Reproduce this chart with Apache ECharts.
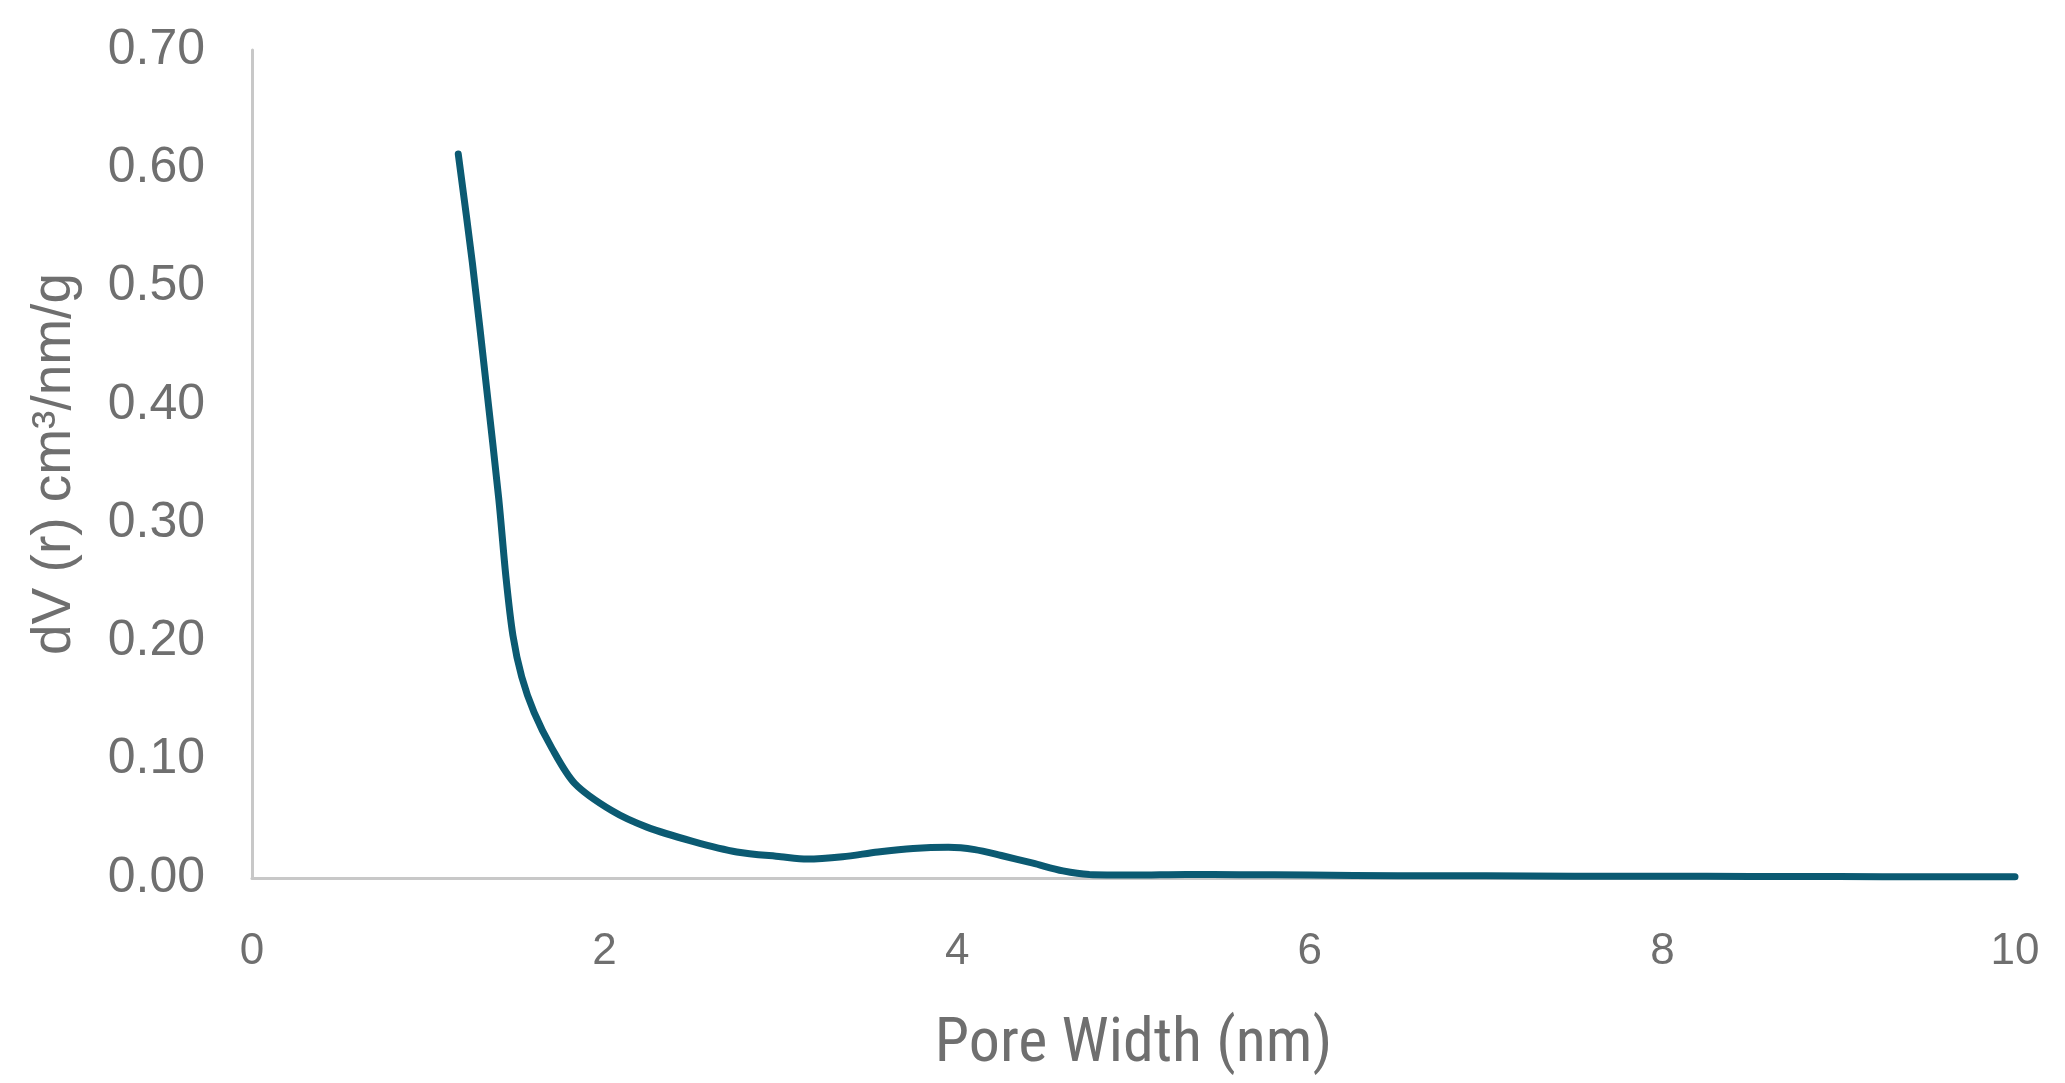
<!DOCTYPE html>
<html>
<head>
<meta charset="utf-8">
<script src="https://cdn.jsdelivr.net/npm/echarts@6/dist/echarts.min.js"></script>
<style>
html,body{margin:0;padding:0;background:#fff;}
#c{width:2065px;height:1083px;}
</style>
</head>
<body>
<div id="c"></div>
<script>
const poreWidth = [1.17,1.25,1.33,1.40,1.44,1.48,1.53,1.60,1.70,1.83,2.04,2.24,2.50,2.75,3.00,3.15,3.35,3.55,3.75,3.95,4.10,4.25,4.43,4.60,4.75,5.00,5.30,5.60,6.00,6.50,7.00,7.50,8.00,8.50,9.00,9.50,10.00];
const dV = [0.612,0.520,0.415,0.320,0.255,0.205,0.170,0.140,0.110,0.080,0.057,0.043,0.031,0.022,0.018,0.016,0.018,0.022,0.025,0.026,0.024,0.019,0.0125,0.006,0.003,0.0025,0.003,0.0028,0.0025,0.002,0.002,0.0015,0.0015,0.0013,0.0012,0.001,0.001];
const xTicks = [0,2,4,6,8,10];
const yTicks = [0,0.1,0.2,0.3,0.4,0.5,0.6,0.7];

const chart = echarts.init(document.getElementById('c'));
chart.setOption({
  animation:false,
  backgroundColor:'#ffffff',
  grid:{left:252,right:50,top:50,bottom:205,containLabel:false},
  xAxis:{
    type:'value',min:xTicks[0],max:xTicks[xTicks.length-1],interval:2,
    name:'Pore Width (nm)',nameLocation:'middle',nameGap:136,
    nameTextStyle:{fontFamily:'Liberation Sans Narrow, Roboto Condensed, Liberation Sans, sans-serif',fontSize:62,color:'#6f6f6f'},
    axisLine:{lineStyle:{color:'#c8c8c8',width:3}},
    axisTick:{show:false},splitLine:{show:false},
    axisLabel:{margin:52,fontFamily:'Liberation Sans, Arial, sans-serif',fontSize:44,color:'#6f6f6f'}
  },
  yAxis:{
    type:'value',min:yTicks[0],max:yTicks[yTicks.length-1],interval:0.1,
    name:'dV (r) cm³/nm/g',nameLocation:'middle',nameGap:170,
    nameTextStyle:{fontFamily:'Liberation Sans, Arial, sans-serif',fontSize:55,color:'#6f6f6f'},
    axisLine:{show:true,lineStyle:{color:'#c8c8c8',width:3}},
    axisTick:{show:false},splitLine:{show:false},
    axisLabel:{margin:47,fontFamily:'Liberation Sans, Arial, sans-serif',fontSize:50,color:'#6f6f6f',formatter:v=>v.toFixed(2)}
  },
  series:[{
    type:'line',
    data:poreWidth.map((x,i)=>[x,dV[i]]),
    showSymbol:false,
    smooth:0.3,
    lineStyle:{color:'#0b5a72',width:7,cap:'round'}
  }]
});
</script>
</body>
</html>
